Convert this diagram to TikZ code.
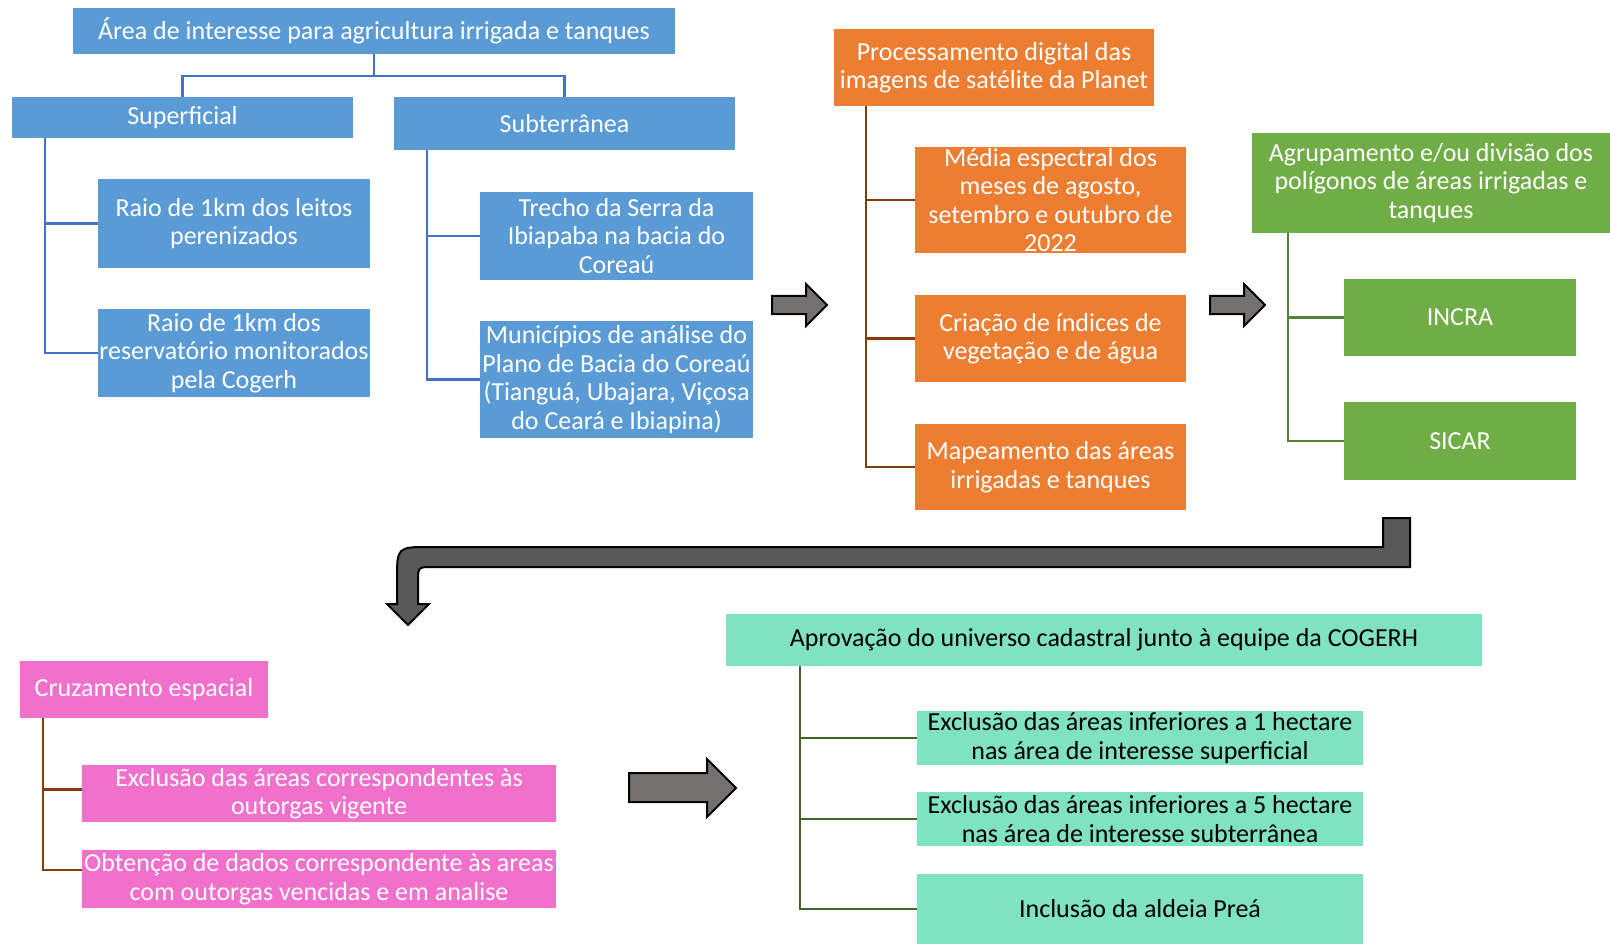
\documentclass[tikz,border=0pt]{standalone}
\usepackage{fontspec}
\setmainfont{Carlito}
\usepackage{xcolor}
\usepackage{tikz}
\definecolor{cog-blue}{RGB}{91,155,213}
\definecolor{cog-blueline}{RGB}{68,114,196}
\definecolor{cog-orange}{RGB}{237,125,49}
\definecolor{cog-brown}{RGB}{132,60,12}
\definecolor{cog-green}{RGB}{112,173,71}
\definecolor{cog-greenline}{RGB}{84,130,53}
\definecolor{cog-pink}{RGB}{240,112,204}
\definecolor{cog-teal}{RGB}{127,226,193}
\definecolor{cog-olive}{RGB}{67,98,40}
\definecolor{cog-arrow}{RGB}{118,113,113}
\definecolor{cog-bent}{RGB}{89,89,89}

\begin{document}
\begin{tikzpicture}[x=1pt, y=-1pt,
  every node/.style={font=\fontsize{26}{28.5}\selectfont, align=center, inner sep=0pt},
  bluebox/.style={fill=cog-blue, text=white},
  orangebox/.style={fill=cog-orange, text=white},
  greenbox/.style={fill=cog-green, text=white},
  pinkbox/.style={fill=cog-pink, text=white},
  tealbox/.style={fill=cog-teal, text=black},
  bluelink/.style={draw=cog-blueline, line width=2.5pt},
  brownlink/.style={draw=cog-brown, line width=2.5pt},
  greenlink/.style={draw=cog-greenline, line width=2.5pt},
  olivelink/.style={draw=cog-olive, line width=2.5pt},
  blockarrow/.style={fill=cog-arrow, draw=black, line width=2pt, line join=miter},
  bentarrow/.style={fill=cog-bent, draw=black, line width=2pt, line join=miter}]
  \useasboundingbox (0,0) rectangle (1610,944);

  % Area de interesse
  \node[bluebox, minimum width=602pt, minimum height=46pt] (area) at (374,31) {Área de interesse para agricultura irrigada e tanques};
  \node[bluebox, minimum width=341pt, minimum height=41pt] (sup) at (182.5,117.5) {Superficial};
  \node[bluebox, minimum width=341pt, minimum height=53pt] (sub) at (564.5,123.5) {Subterrânea};
  \node[bluebox, minimum width=272pt, minimum height=89pt] (leitos) at (234,223.5) {Raio de 1km dos leitos\\perenizados};
  \node[bluebox, minimum width=272pt, minimum height=88pt] (reserv) at (234,353) {Raio de 1km dos\\reservatório monitorados\\pela Cogerh};
  \node[bluebox, minimum width=273pt, minimum height=88pt] (trecho) at (616.5,236) {Trecho da Serra da\\Ibiapaba na bacia do\\Coreaú};
  \node[bluebox, minimum width=273pt, minimum height=117pt] (munic) at (616.5,379.5) {Municípios de análise do\\Plano de Bacia do Coreaú\\(Tianguá, Ubajara, Viçosa\\do Ceará e Ibiapina)};

  \draw[bluelink] (area.south) -- ++(0,22) -| (sup.north);
  \draw[bluelink] (area.south) -- ++(0,22) -| (sub.north);
  \draw[bluelink] ([xshift=33pt]sup.south west) |- (leitos.west);
  \draw[bluelink] ([xshift=33pt]sup.south west) |- (reserv.west);
  \draw[bluelink] ([xshift=33pt]sub.south west) |- (trecho.west);
  \draw[bluelink] ([xshift=33pt]sub.south west) |- (munic.west);

  % Processamento
  \node[orangebox, minimum width=320pt, minimum height=77pt] (proc) at (994,67.5) {Processamento digital das\\imagens de satélite da Planet};
  \node[orangebox, minimum width=271pt, minimum height=106pt] (media) at (1050.5,200) {Média espectral dos\\meses de agosto,\\setembro e outubro de\\2022};
  \node[orangebox, minimum width=271pt, minimum height=87pt] (criacao) at (1050.5,338.5) {Criação de índices de\\vegetação e de água};
  \node[orangebox, minimum width=271pt, minimum height=86pt] (mapeam) at (1050.5,467) {Mapeamento das áreas\\irrigadas e tanques};

  \draw[brownlink] ([xshift=32pt]proc.south west) |- (media.west);
  \draw[brownlink] ([xshift=32pt]proc.south west) |- (criacao.west);
  \draw[brownlink] ([xshift=32pt]proc.south west) |- (mapeam.west);

  % Agrupamento
  \node[greenbox, minimum width=358pt, minimum height=100pt] (agrup) at (1431,183) {Agrupamento e/ou divisão dos\\polígonos de áreas irrigadas e\\tanques};
  \node[greenbox, minimum width=232pt, minimum height=77pt] (incra) at (1460,317.5) {INCRA};
  \node[greenbox, minimum width=232pt, minimum height=78pt] (sicar) at (1460,441) {SICAR};

  \draw[greenlink] ([xshift=36pt]agrup.south west) |- (incra.west);
  \draw[greenlink] ([xshift=36pt]agrup.south west) |- (sicar.west);

  % Cruzamento espacial
  \node[pinkbox, minimum width=248pt, minimum height=57pt] (cruz) at (144,689.5) {Cruzamento espacial};
  \node[pinkbox, minimum width=474pt, minimum height=57pt] (exclout) at (319,793.5) {Exclusão das áreas correspondentes às\\outorgas vigente};
  \node[pinkbox, minimum width=474pt, minimum height=58pt] (obten) at (319,879) {Obtenção de dados correspondente às areas\\com outorgas vencidas e em analise};

  \draw[brownlink] ([xshift=23pt]cruz.south west) |- ([yshift=4pt]exclout.west);
  \draw[brownlink] ([xshift=23pt]cruz.south west) |- ([yshift=9pt]obten.west);

  % Aprovacao
  \node[tealbox, minimum width=756pt, minimum height=52pt] (aprov) at (1104,640) {Aprovação do universo cadastral junto à equipe da COGERH};
  \node[tealbox, minimum width=446pt, minimum height=54pt] (excla) at (1140,738) {Exclusão das áreas inferiores a 1 hectare\\nas área de interesse superficial};
  \node[tealbox, minimum width=446pt, minimum height=54pt] (exclb) at (1140,819) {Exclusão das áreas inferiores a 5 hectare\\nas área de interesse subterrânea};
  \node[tealbox, minimum width=446pt, minimum height=70pt] (inclu) at (1140,909) {Inclusão da aldeia Preá};

  \draw[olivelink] ([xshift=74pt]aprov.south west) |- (excla.west);
  \draw[olivelink] ([xshift=74pt]aprov.south west) |- (exclb.west);
  \draw[olivelink] ([xshift=74pt]aprov.south west) |- (inclu.west);

  % Block arrows
  \draw[blockarrow] (772,296) -- (806,296) -- (806,284) -- (827,305) -- (806,326) -- (806,314) -- (772,314) -- cycle;
  \draw[blockarrow] (1210,296) -- (1244,296) -- (1244,284) -- (1265,305) -- (1244,326) -- (1244,314) -- (1210,314) -- cycle;
  \draw[blockarrow] (629,773) -- (707,773) -- (707,759) -- (736,788) -- (707,817) -- (707,802) -- (629,802) -- cycle;
  \draw[bentarrow] (1383,518) -- (1410,518) -- (1410,567) -- (433,567) .. controls (418,567) .. (418,582)
    -- (418,604) -- (429,604) -- (408,625) -- (387,604) -- (397,604) -- (397,580) .. controls (397,547) .. (430,547) -- (1383,547) -- cycle;
\end{tikzpicture}
\end{document}
